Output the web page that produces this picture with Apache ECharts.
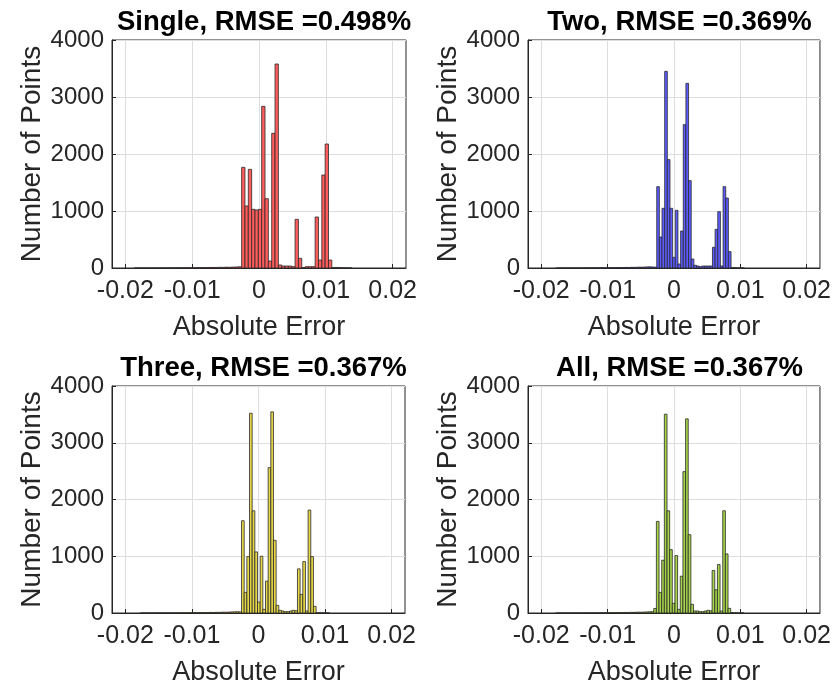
<!DOCTYPE html>
<html>
<head>
<meta charset="utf-8">
<script src="https://cdn.jsdelivr.net/npm/echarts@6/dist/echarts.min.js"></script>
<style>
  html, body { margin: 0; padding: 0; background: #fff; }
  #chart { width: 834px; height: 687px; }
</style>
</head>
<body>
<div id="chart"></div>
<script>
// panel titles
var titles = ["Single, RMSE =0.498%", "Two, RMSE =0.369%", "Three, RMSE =0.367%", "All, RMSE =0.367%"];
var xTicks = [-0.02, -0.01, 0, 0.01, 0.02];

// histogram bins: first edge of the main block, bin width, counts (left tail / main / right tail)
var binStart = [-0.0026, -0.0026, -0.00255, -0.00265];
var binWidth = [0.0005, 0.0004, 0.0004, 0.0004];

var tail1 = [1,0,1,0,1,1,1,0,2,1,2,3,2,4,3,5,4,6,5,7,8,6,9,10,8,12,11,14,13,16,18,22];
var main1 = [1766,1088,1731,1029,1018,1029,2836,1216,123,2363,3579,53,35,35,35,23,854,170,5,23,23,23,895,140,1632,2175,140,5];
var right1 = [10,6,3,2,1];

var tail2 = [0,1,0,1,1,0,1,2,1,1,2,2,3,2,3,4,3,5,4,5,6,5,7,8,7,9,10,9,12,11,13,15,14,17,19,21,18,15];
var main2 = [1427,544,1047,3450,1901,1047,187,1012,70,649,2515,3240,1532,158,47,35,23,35,35,35,35,363,678,988,35,1427,1228,287];
var right2 = [8,4,2,1,1];

var tail3 = [0,1,0,1,1,0,1,2,1,1,2,2,3,2,3,4,3,5,4,5,6,5,7,8,7,9,10,9,12,11,13,15,14,17,19,21,23,20];
var main3 = [1626,363,994,3520,1801,1076,193,1000,64,561,2561,3544,1281,134,47,35,23,23,35,47,40,778,327,906,35,1813,994,117];
var right3 = [8,4,2,1,1];

var tail4 = [0,1,0,1,1,0,1,2,1,1,2,2,3,2,3,4,3,5,4,5,6,5,7,8,7,9,10,9,12,11,13,15,14,17,19,21,23,80];
var main4 = [1614,363,930,3503,1801,1117,170,1012,64,649,2491,3421,1380,152,35,35,23,23,35,47,40,749,409,854,35,1801,1041,82];
var right4 = [8,4,2,1,1];

var fills = ["#ff5c5c", "#5c5cff", "#e6d748", "#a6d44a"];
var fontFamily = "Liberation Sans, Arial, Helvetica, sans-serif";

var panels = [
  { tail: tail1, main: main1, right: right1 },
  { tail: tail2, main: main2, right: right2 },
  { tail: tail3, main: main3, right: right3 },
  { tail: tail4, main: main4, right: right4 }
];

// build [x0, x1, count] rows for each panel
function buildBins(i) {
  var p = panels[i];
  var counts = p.tail.concat(p.main, p.right);
  var w = binWidth[i];
  var first = binStart[i] - p.tail.length * w;
  var rows = [];
  for (var k = 0; k < counts.length; k++) {
    rows.push([first + k * w, first + (k + 1) * w, counts[k]]);
  }
  return rows;
}

function renderBin(params, api) {
  var p0 = api.coord([api.value(0), api.value(2)]);
  var p1 = api.coord([api.value(1), 0]);
  return {
    type: "rect",
    shape: { x: p0[0], y: p0[1], width: p1[0] - p0[0], height: p1[1] - p0[1] },
    style: { fill: fills[params.seriesIndex], stroke: "#2a2a2a", lineWidth: 0.8 }
  };
}

var grids = [
  { left: 112, top: 40, width: 294, height: 228 },
  { left: 528, top: 40, width: 293, height: 228 },
  { left: 112, top: 386, width: 293, height: 228 },
  { left: 528, top: 386, width: 293, height: 228 }
];

var option = {
  backgroundColor: "#fff",
  animation: false,
  title: [],
  grid: [],
  xAxis: [],
  yAxis: [],
  series: []
};

for (var i = 0; i < 4; i++) {
  var g = grids[i];
  option.grid.push({
    left: g.left, top: g.top, width: g.width, height: g.height,
    show: true, borderColor: "#262626", borderWidth: 1, backgroundColor: "#fff"
  });
  option.title.push({
    text: titles[i],
    left: g.left + g.width / 2,
    top: g.top - 37,
    textAlign: "center",
    textStyle: { fontFamily: fontFamily, fontSize: 27.5, fontWeight: "bold", color: "#000" }
  });
  option.xAxis.push({
    gridIndex: i,
    type: "value",
    min: -0.022,
    max: 0.022,
    name: "Absolute Error",
    nameLocation: "middle",
    nameGap: 46,
    nameTextStyle: { fontFamily: fontFamily, fontSize: 27, color: "#262626" },
    axisLine: { show: true, onZero: false, lineStyle: { color: "#262626", width: 1 } },
    axisTick: { show: true, inside: true, length: 4, customValues: xTicks, lineStyle: { color: "#262626" } },
    axisLabel: {
      customValues: xTicks, margin: 11,
      fontFamily: fontFamily, fontSize: 25, color: "#262626"
    },
    splitLine: { show: true, lineStyle: { color: "#dedede", width: 1 } }
  });
  option.yAxis.push({
    gridIndex: i,
    type: "value",
    min: 0,
    max: 4000,
    interval: 1000,
    name: "Number of Points",
    nameLocation: "middle",
    nameGap: 62,
    nameTextStyle: { fontFamily: fontFamily, fontSize: 28, color: "#262626" },
    axisLine: { show: true, onZero: false, lineStyle: { color: "#262626", width: 1 } },
    axisTick: { show: true, inside: true, length: 4, lineStyle: { color: "#262626" } },
    axisLabel: {
      margin: 8, fontFamily: fontFamily, fontSize: 24, color: "#262626",
      formatter: function (v) { return String(v); }
    },
    splitLine: { show: true, lineStyle: { color: "#dedede", width: 1 } }
  });
  option.series.push({
    type: "custom",
    xAxisIndex: i,
    yAxisIndex: i,
    renderItem: renderBin,
    encode: { x: [0, 1], y: 2 },
    data: buildBins(i),
    clip: true
  });
}

var chart = echarts.init(document.getElementById("chart"), null, { renderer: "canvas" });
chart.setOption(option);
</script>
</body>
</html>
